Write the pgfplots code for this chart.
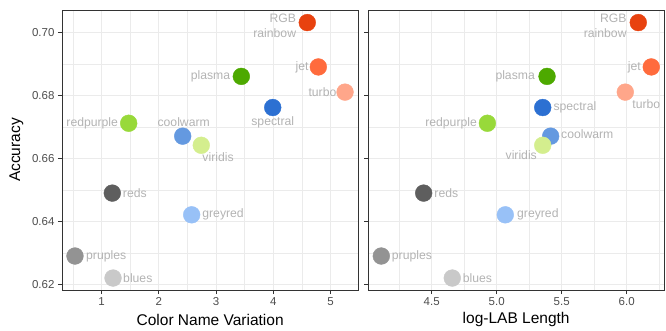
\documentclass[border=0pt]{standalone}
\usepackage{fontspec}
\setmainfont{Liberation Sans}
\usepackage{pgfplots}
\pgfplotsset{compat=1.18}

\definecolor{cRGB}{HTML}{E8420F}
\definecolor{cjet}{HTML}{FF6B3D}
\definecolor{cturbo}{HTML}{FFA68A}
\definecolor{cplasma}{HTML}{4DA900}
\definecolor{cspectral}{HTML}{2C70D2}
\definecolor{credpurple}{HTML}{98D93A}
\definecolor{ccoolwarm}{HTML}{6499E0}
\definecolor{cviridis}{HTML}{D4EE8E}
\definecolor{creds}{HTML}{5E5E5E}
\definecolor{cgreyred}{HTML}{98C1F7}
\definecolor{cpruples}{HTML}{939393}
\definecolor{cblues}{HTML}{C9C9C9}
\definecolor{labelc}{HTML}{B3B3B3}
\definecolor{gridc}{HTML}{EBEBEB}
\definecolor{framec}{HTML}{333333}
\definecolor{tickc}{HTML}{4D4D4D}

\pgfplotsset{
  panel/.style={
    scale only axis, height=280pt,
    ymin=0.6182, ymax=0.7072,
    ytick={0.62,0.64,0.66,0.68,0.70},
    minor ytick={0.63,0.65,0.67,0.69},
    grid=both,
    major grid style={color=gridc, line width=0.9pt},
    minor grid style={color=gridc, line width=0.5pt},
    axis line style={color=framec, line width=0.9pt},
    tick align=outside, tick pos=left,
    major tick length=4pt, minor tick length=0pt,
    tick style={color=framec, line width=0.8pt},
    ticklabel style={font=\fontsize{11.5}{12}\selectfont, text=tickc},
    /pgf/number format/assume math mode=true,
    xlabel style={at={(axis description cs:0.5,-0.107)}, anchor=center,
      font=\fontsize{15.5}{16}\selectfont, text=black},
    ylabel style={at={(axis description cs:-0.154,0.5)}, anchor=center,
      font=\fontsize{15.5}{16}\selectfont, text=black},
  },
  dot/.style={only marks, mark=*, mark size=8.4pt, color=#1, mark options={draw=#1, fill=#1}},
  lbls/.style={
    only marks, mark=*, mark size=0.1pt, mark options={draw=none, fill=none},
    visualization depends on={value \thisrow{label} \as \myLbl},
    visualization depends on={value \thisrow{anc} \as \myAnc},
    visualization depends on={\thisrow{dx} \as \myDx},
    visualization depends on={\thisrow{dy} \as \myDy},
    nodes near coords={\myLbl},
    every node near coord/.append style={anchor=\myAnc, xshift=\myDx pt, yshift=\myDy pt,
      font=\fontsize{12.2}{13}\selectfont, text=labelc, inner sep=0pt},
  },
}

\begin{document}
\begin{tikzpicture}
\useasboundingbox (0,0) rectangle (666pt,330pt);
\begin{axis}[panel,
  at={(62pt,40pt)}, anchor=south west, width=296.3pt,
  xmin=0.306, xmax=5.486,
  xtick={1,2,3,4,5}, minor xtick={0.5,1.5,2.5,3.5,4.5},
  yticklabel style={/pgf/number format/.cd, fixed, fixed zerofill, precision=2},
  xlabel={Color Name Variation}, ylabel={Accuracy},
]
\addplot[lbls] table[x=x, y=y] {
x y label anc dx dy
4.594 0.7032 RGB east -11 4
4.594 0.7032 rainbow east -11 -11
4.787 0.6891 jet east -9.5 0
5.254 0.6811 turbo east -8.5 0
3.441 0.6861 plasma east -11 0
3.990 0.6762 spectral center 0 -15
1.472 0.6712 redpurple east -10.5 0
2.416 0.6671 coolwarm center 1 14
2.741 0.6642 viridis west 1 -12
1.185 0.6490 reds west 10.5 0
2.573 0.6421 greyred west 10.5 0
0.533 0.6290 pruples west 11 0
1.198 0.6220 blues west 10 0
};
\addplot[dot=cRGB] coordinates {(4.594,0.7032)};
\addplot[dot=cjet] coordinates {(4.787,0.6891)};
\addplot[dot=cturbo] coordinates {(5.254,0.6811)};
\addplot[dot=cplasma] coordinates {(3.441,0.6861)};
\addplot[dot=cspectral] coordinates {(3.990,0.6762)};
\addplot[dot=credpurple] coordinates {(1.472,0.6712)};
\addplot[dot=ccoolwarm] coordinates {(2.416,0.6671)};
\addplot[dot=cviridis] coordinates {(2.741,0.6642)};
\addplot[dot=creds] coordinates {(1.185,0.6490)};
\addplot[dot=cgreyred] coordinates {(2.573,0.6421)};
\addplot[dot=cpruples] coordinates {(0.533,0.6290)};
\addplot[dot=cblues] coordinates {(1.198,0.6220)};
\end{axis}
\begin{axis}[panel,
  at={(368.3pt,40pt)}, anchor=south west, width=295.7pt,
  xmin=4.012, xmax=6.287,
  xtick={4.5,5,5.5,6}, minor xtick={4.25,4.75,5.25,5.75,6.25},
  xticklabel style={/pgf/number format/.cd, fixed, fixed zerofill, precision=1},
  yticklabels={},
  xlabel={log-LAB Length},
]
\addplot[lbls] table[x=x, y=y] {
x y label anc dx dy
6.089 0.7032 RGB east -11.5 4
6.089 0.7032 rainbow east -11.5 -11
6.189 0.6891 jet east -10.3 0
5.989 0.6811 turbo west 7 -12
5.387 0.6861 plasma east -12 0
5.354 0.6762 spectral west 10.6 0
4.928 0.6712 redpurple east -10.3 0
5.415 0.6671 coolwarm west 10.3 2
5.354 0.6642 viridis east -5.7 -10
4.438 0.6490 reds west 10.6 0
5.066 0.6421 greyred west 11.7 0
4.112 0.6290 pruples west 10.4 0
4.658 0.6220 blues west 10.4 0
};
\addplot[dot=cRGB] coordinates {(6.089,0.7032)};
\addplot[dot=cjet] coordinates {(6.189,0.6891)};
\addplot[dot=cturbo] coordinates {(5.989,0.6811)};
\addplot[dot=cplasma] coordinates {(5.387,0.6861)};
\addplot[dot=cspectral] coordinates {(5.354,0.6762)};
\addplot[dot=credpurple] coordinates {(4.928,0.6712)};
\addplot[dot=ccoolwarm] coordinates {(5.415,0.6671)};
\addplot[dot=cviridis] coordinates {(5.354,0.6642)};
\addplot[dot=creds] coordinates {(4.438,0.6490)};
\addplot[dot=cgreyred] coordinates {(5.066,0.6421)};
\addplot[dot=cpruples] coordinates {(4.112,0.6290)};
\addplot[dot=cblues] coordinates {(4.658,0.6220)};
\end{axis}
\end{tikzpicture}
\end{document}
